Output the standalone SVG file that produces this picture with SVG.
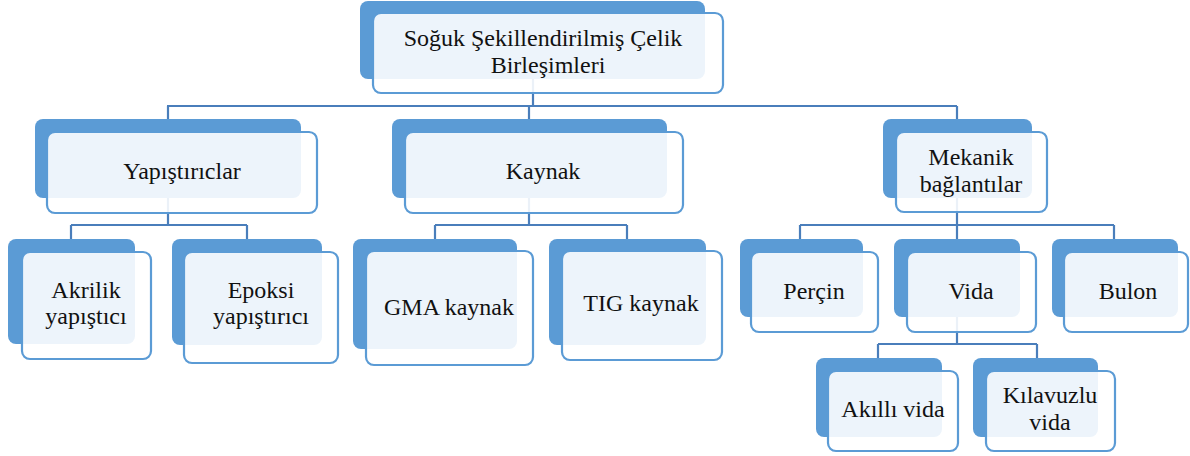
<svg xmlns="http://www.w3.org/2000/svg" width="1190" height="456" viewBox="0 0 1190 456">
<style>
.back{fill:#5B9BD5;}
.front{fill:#FFFFFF;fill-opacity:0.89;stroke:#5B9BD5;stroke-width:2.2;}
.conn{fill:none;stroke:#4A7EBB;stroke-width:2.2;}
.t{font-family:"Liberation Serif","Times New Roman",serif;font-size:24px;fill:#111111;text-anchor:middle;}
</style>
<rect width="1190" height="456" fill="#FFFFFF"/>
<g id="connectors">
<path class="conn" d="M533,79V106M167,106H957M168,106V119M529,106V119M957,106V119"/>
<path class="conn" d="M168,198V225M71,225H247M71,225V239M247,225V239"/>
<path class="conn" d="M529,198V225M435,225H627M435,225V239M627,225V239"/>
<path class="conn" d="M957,198V225M800,225H1114M800,225V239M957,225V239M1114,225V239"/>
<path class="conn" d="M957,317V344M878,344H1037M878,344V358M1037,344V358"/>
</g>
<g id="root">
<rect class="back" x="360" y="1" width="345" height="78" rx="8"/>
<rect class="front" x="373" y="13" width="350" height="80" rx="8"/>
<text class="t" x="543" y="46">Soğuk Şekillendirilmiş Çelik</text>
<text class="t" x="548" y="73">Birleşimleri</text>
</g>
<g id="yapistiricilar">
<rect class="back" x="35" y="119" width="266" height="79" rx="8"/>
<rect class="front" x="47" y="132" width="270" height="81" rx="8"/>
<text class="t" x="182" y="179">Yapıştırıclar</text>
</g>
<g id="kaynak">
<rect class="back" x="392" y="119" width="275" height="79" rx="8"/>
<rect class="front" x="405" y="132" width="278" height="81" rx="8"/>
<text class="t" x="543" y="179">Kaynak</text>
</g>
<g id="mekanik">
<rect class="back" x="883" y="119" width="149" height="79" rx="8"/>
<rect class="front" x="896" y="132" width="151" height="80" rx="8"/>
<text class="t" x="971" y="165">Mekanik</text>
<text class="t" x="971" y="192">bağlantılar</text>
</g>
<g id="akrilik">
<rect class="back" x="8" y="239" width="127" height="105" rx="8"/>
<rect class="front" x="22" y="252" width="129" height="107" rx="8"/>
<text class="t" x="86" y="298">Akrilik</text>
<text class="t" x="86" y="324">yapıştıcı</text>
</g>
<g id="epoksi">
<rect class="back" x="172" y="239" width="150" height="106" rx="8"/>
<rect class="front" x="184" y="252" width="154" height="111" rx="8"/>
<text class="t" x="261" y="298">Epoksi</text>
<text class="t" x="261" y="324">yapıştırıcı</text>
</g>
<g id="gma">
<rect class="back" x="353" y="239" width="164" height="110" rx="8"/>
<rect class="front" x="366" y="251" width="167" height="114" rx="8"/>
<text class="t" x="449" y="315">GMA kaynak</text>
</g>
<g id="tig">
<rect class="back" x="549" y="239" width="157" height="106" rx="8"/>
<rect class="front" x="562" y="251" width="160" height="109" rx="8"/>
<text class="t" x="641" y="311">TIG kaynak</text>
</g>
<g id="percin">
<rect class="back" x="740" y="239" width="123" height="78" rx="8"/>
<rect class="front" x="751" y="252" width="127" height="80" rx="8"/>
<text class="t" x="814" y="299">Perçin</text>
</g>
<g id="vida">
<rect class="back" x="894" y="239" width="126" height="78" rx="8"/>
<rect class="front" x="907" y="252" width="129" height="80" rx="8"/>
<text class="t" x="971" y="299">Vida</text>
</g>
<g id="bulon">
<rect class="back" x="1052" y="239" width="126" height="78" rx="8"/>
<rect class="front" x="1064" y="252" width="124" height="80" rx="8"/>
<text class="t" x="1128" y="299">Bulon</text>
</g>
<g id="akilli">
<rect class="back" x="816" y="358" width="126" height="79" rx="8"/>
<rect class="front" x="828" y="371" width="130" height="80" rx="8"/>
<text class="t" x="893" y="417">Akıllı vida</text>
</g>
<g id="kilavuzlu">
<rect class="back" x="973" y="358" width="125" height="79" rx="8"/>
<rect class="front" x="986" y="371" width="129" height="80" rx="8"/>
<text class="t" x="1050" y="403">Kılavuzlu</text>
<text class="t" x="1050" y="430">vida</text>
</g>
</svg>
